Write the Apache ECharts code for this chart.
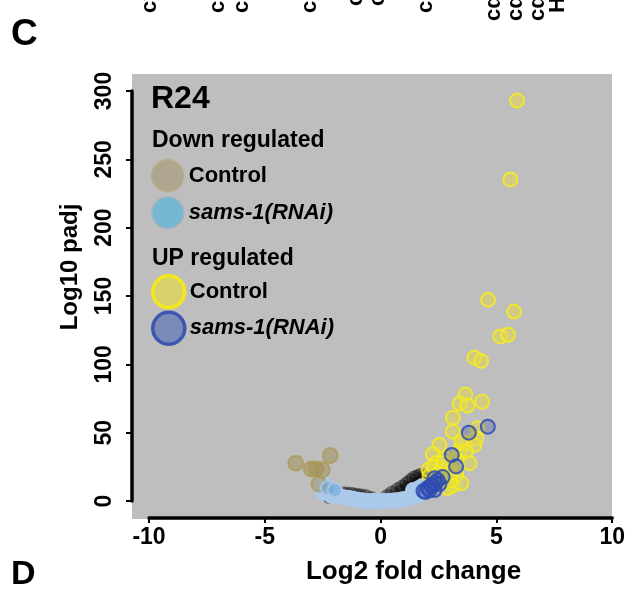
<!DOCTYPE html>
<html>
<head>
<meta charset="utf-8">
<script src="https://cdn.jsdelivr.net/npm/echarts@6/dist/echarts.min.js"></script>
<style>
html,body{margin:0;padding:0;background:#fff;}
#chart{width:628px;height:590px;}
</style>
</head>
<body>
<div id="chart"></div>
<script>
// ---- data (log2 fold change, -log10 padj) ----
const xTickValues = [-10, -5, 0, 5, 10];
const yTickValues = [0, 50, 100, 150, 200, 250, 300];

const nsControl = [
  [-2.2, 3.5], [-1.9, 5.5], [-1.65, 5], [-1.45, 4.8], [-1.25, 4.5], [-1.05, 4], [-0.85, 3.5], [-0.65, 3],
  [-0.4, 1.5], [0.3, 3], [0.5, 5.5], [0.75, 8], [0.95, 10], [1.15, 12.5], [1.3, 14.5], [1.45, 16.5],
  [1.6, 17.5], [1.75, 18.5], [1.9, 17], [2.05, 16], [1.2, 9], [1.5, 11], [1.7, 13], [0.9, 6], [2.2, 18], [2.35, 20]
];
const nsSams = [
  [-2.55, 9.5], [-2.5, 13], [-2.45, 6], [-2.3, 10.5], [-2.2, 6.6], [-2.1, 3.5], [-2.0, 8], [-1.9, 4.5],
  [-1.77, 3.6], [-1.6, 2.8], [-1.45, 2.4], [-1.34, 2.2], [-1.2, 1.6], [-1.05, 1.1], [-0.9, 0.7], [-0.75, 0.4],
  [-0.6, 0.2], [-0.47, 0], [-0.3, 0], [-0.15, 0], [-0.04, 0], [0.1, 0], [0.25, 0], [0.39, 0],
  [0.55, 0.3], [0.7, 0.5], [0.82, 0.7], [0.95, 1.2], [1.1, 1.7], [1.25, 2.2], [1.4, 3], [1.4, 8],
  [1.55, 3.8], [1.6, 9], [1.68, 4.4], [1.8, 6], [1.8, 11], [1.95, 7], [2.11, 8]
];
const downControl = [
  [-3.66, 27.7], [-2.99, 23.5], [-2.80, 23.5], [-2.51, 22.8], [-2.17, 33.3], [-2.66, 12.4]
];
const downSams = [
  [-2.27, 9.5], [-1.98, 8.2]
];
const upControl = [
  [5.89, 293.0], [5.60, 235.3], [4.64, 147.3], [5.76, 138.6], [5.17, 120.4], [5.50, 121.6],
  [4.05, 104.9], [4.34, 102.5], [3.66, 77.9], [3.41, 71.3], [3.75, 69.9], [4.38, 72.6],
  [3.12, 61.0], [3.12, 50.8], [4.19, 53.2], [4.13, 45.9], [3.62, 42.2], [2.54, 41.0],
  [2.25, 34.2], [3.41, 36.4], [4.05, 41.0], [3.48, 43.5], [3.69, 36.2], [2.40, 27.7],
  [2.07, 22.8], [2.83, 21.6], [3.26, 19.2], [3.12, 11.4], [2.89, 9.5], [2.76, 31.3],
  [3.84, 27.7], [2.54, 16.8], [3.49, 13.1], [2.11, 18.2], [2.95, 26], [3.0, 15], [2.6, 24], [3.3, 30],
  [2.3, 25], [2.7, 28], [3.0, 20], [2.5, 20]
];
const upSams = [
  [3.81, 50.0], [4.63, 54.4], [3.07, 33.7], [3.26, 25.3], [2.68, 17.5], [2.33, 16.7],
  [2.46, 15.3], [2.20, 10.9], [2.03, 9.5], [2.33, 8.0], [1.85, 7.3], [2.54, 12.4],
  [2.2, 11.7], [2.37, 13.1], [2.11, 8], [1.94, 6.6]
];

// ---- cropped labels of the panel above (only their first letters show) ----
const topLabels = ['cyp', 'cdo', 'clec', 'cpr', 'cyp', 'cdh', 'col', 'cdc', 'cdc', 'cdc', 'H2B'];
const topLabelX = [150, 218, 242, 310, 356, 378, 426, 494, 516, 538, 558];
const topLabelBottom = [13, 13, 13, 13, 6, 6, 13, 21, 21, 21, 13];

const chart = echarts.init(document.getElementById('chart'));
const FONT = 'Liberation Sans, Arial, Helvetica, sans-serif';

const legendText = {
  fontFamily: FONT, fontSize: 22, fontWeight: 'bold', color: '#000',
  rich: { i: { fontFamily: FONT, fontSize: 22, fontWeight: 'bold', fontStyle: 'italic', color: '#000' } }
};
const legendFmt = function (name) {
  return name.indexOf('sams') >= 0 ? '{i|sams-1(RNAi)}' : 'Control';
};

const option = {
  animation: false,
  backgroundColor: '#ffffff',
  title: [
    { text: 'C', left: 11, top: 16, padding: 0, textStyle: { fontFamily: FONT, fontSize: 37, fontWeight: 'bold', color: '#000' } },
    { text: 'D', left: 11, top: 558, padding: 0, textStyle: { fontFamily: FONT, fontSize: 34, fontWeight: 'bold', color: '#000' } },
    { text: 'R24', left: 151, top: 83, padding: 0, textStyle: { fontFamily: FONT, fontSize: 32, fontWeight: 'bold', color: '#000' } },
    { text: 'Down regulated', left: 152, top: 129, padding: 0, textStyle: { fontFamily: FONT, fontSize: 23, fontWeight: 'bold', color: '#000' } },
    { text: 'UP regulated', left: 152, top: 247, padding: 0, textStyle: { fontFamily: FONT, fontSize: 23, fontWeight: 'bold', color: '#000' } }
  ],
  legend: [
    {
      orient: 'vertical', left: 151, top: 159, padding: 0, itemGap: 3.5, itemWidth: 32, itemHeight: 32,
      selectedMode: false, formatter: legendFmt, textStyle: legendText,
      data: [
        { name: 'Down: Control', icon: 'circle', itemStyle: { color: '#afa68f', borderColor: '#b8ad88', borderWidth: 1.5, opacity: 1 } },
        { name: 'Down: sams-1(RNAi)', icon: 'circle', itemStyle: { color: '#76b8d2', borderColor: '#a9b5bc', borderWidth: 1.5, opacity: 1 } }
      ]
    },
    {
      orient: 'vertical', left: 151, top: 274, padding: 0, itemGap: 1, itemWidth: 32, itemHeight: 32,
      selectedMode: false, formatter: legendFmt, textStyle: legendText,
      data: [
        { name: 'Up: Control', icon: 'circle', itemStyle: { color: '#d7d26e', borderColor: '#f4e81a', borderWidth: 3.5, opacity: 1 } },
        { name: 'Up: sams-1(RNAi)', icon: 'circle', itemStyle: { color: '#7b8bb8', borderColor: '#3b57b0', borderWidth: 3.5, opacity: 1 } }
      ]
    }
  ],
  grid: [
    { left: 132, top: 74, width: 480, height: 445, show: true, backgroundColor: '#bebebe', borderWidth: 0 },
    { left: 149, top: 91, width: 464, height: 412 }
  ],
  xAxis: [
    { gridIndex: 0, type: 'value', show: false, min: 0, max: 1 },
    {
      gridIndex: 1, type: 'value', min: xTickValues[0], max: xTickValues[xTickValues.length - 1], interval: 5,
      offset: 17, position: 'bottom',
      axisLine: { show: true, onZero: false, lineStyle: { color: '#000', width: 3.5 } },
      axisTick: { show: true, length: 5, lineStyle: { color: '#000', width: 2 } },
      splitLine: { show: false },
      axisLabel: { fontFamily: FONT, fontSize: 23, fontWeight: 'bold', color: '#000', margin: 8 },
      name: 'Log2 fold change', nameLocation: 'middle', nameGap: 41,
      nameTextStyle: { fontFamily: FONT, fontSize: 26, fontWeight: 'bold', color: '#000', padding: [0, 0, 0, 66] }
    }
  ],
  yAxis: [
    { gridIndex: 0, type: 'value', show: false, min: 0, max: 1 },
    {
      gridIndex: 1, type: 'value', min: yTickValues[0], max: yTickValues[yTickValues.length - 1], interval: 50,
      offset: 17, position: 'left',
      axisLine: { show: true, onZero: false, lineStyle: { color: '#000', width: 3.5 } },
      axisTick: { show: true, length: 6, lineStyle: { color: '#000', width: 2 } },
      splitLine: { show: false },
      axisLabel: { fontFamily: FONT, fontSize: 23, fontWeight: 'bold', color: '#000', rotate: 90, margin: 16 },
      name: 'Log10 padj', nameLocation: 'middle', nameGap: 50, nameRotate: 90,
      nameTextStyle: { fontFamily: FONT, fontSize: 24, fontWeight: 'bold', color: '#000', padding: [0, 0, 0, 58] }
    }
  ],
  graphic: topLabels.map(function (t, i) {
    return {
      type: 'text', x: topLabelX[i], y: topLabelBottom[i], rotation: Math.PI / 2, silent: true,
      style: { text: t, fontFamily: FONT, fontSize: 22, fontWeight: 'bold', fill: '#000', align: 'left', verticalAlign: 'middle' }
    };
  }),
  series: [
    {
      name: 'NS control', type: 'scatter', xAxisIndex: 1, yAxisIndex: 1, clip: false, symbolSize: 15,
      itemStyle: { color: 'rgba(10,10,10,0.5)', borderColor: 'rgba(0,0,0,0.35)', borderWidth: 1 },
      data: nsControl, silent: true
    },
    {
      name: 'NS sams-1', type: 'scatter', xAxisIndex: 1, yAxisIndex: 1, clip: false, symbolSize: 16,
      itemStyle: { color: '#abc9ea', borderWidth: 0, opacity: 1 },
      data: nsSams, silent: true
    },
    {
      name: 'Up: Control', type: 'scatter', xAxisIndex: 1, yAxisIndex: 1, clip: false, symbolSize: 14,
      itemStyle: { color: 'rgba(228,218,70,0.5)', borderColor: 'rgba(246,236,30,0.85)', borderWidth: 2, opacity: 1 },
      data: upControl
    },
    {
      name: 'Up: sams-1(RNAi)', type: 'scatter', xAxisIndex: 1, yAxisIndex: 1, clip: false, symbolSize: 14,
      itemStyle: { color: 'rgba(55,80,175,0.3)', borderColor: 'rgba(45,75,180,0.85)', borderWidth: 2, opacity: 1 },
      data: upSams
    },
    {
      name: 'Down: Control', type: 'scatter', xAxisIndex: 1, yAxisIndex: 1, clip: false, symbolSize: 15,
      itemStyle: { color: 'rgba(160,142,85,0.5)', borderColor: 'rgba(172,152,78,0.7)', borderWidth: 2, opacity: 1 },
      data: downControl
    },
    {
      name: 'Down: sams-1(RNAi)', type: 'scatter', xAxisIndex: 1, yAxisIndex: 1, clip: false, symbolSize: 14,
      itemStyle: { color: 'rgba(110,168,215,0.6)', borderColor: 'rgba(175,198,228,0.85)', borderWidth: 2, opacity: 1 },
      data: downSams
    }
  ]
};
chart.setOption(option);
</script>
</body>
</html>
